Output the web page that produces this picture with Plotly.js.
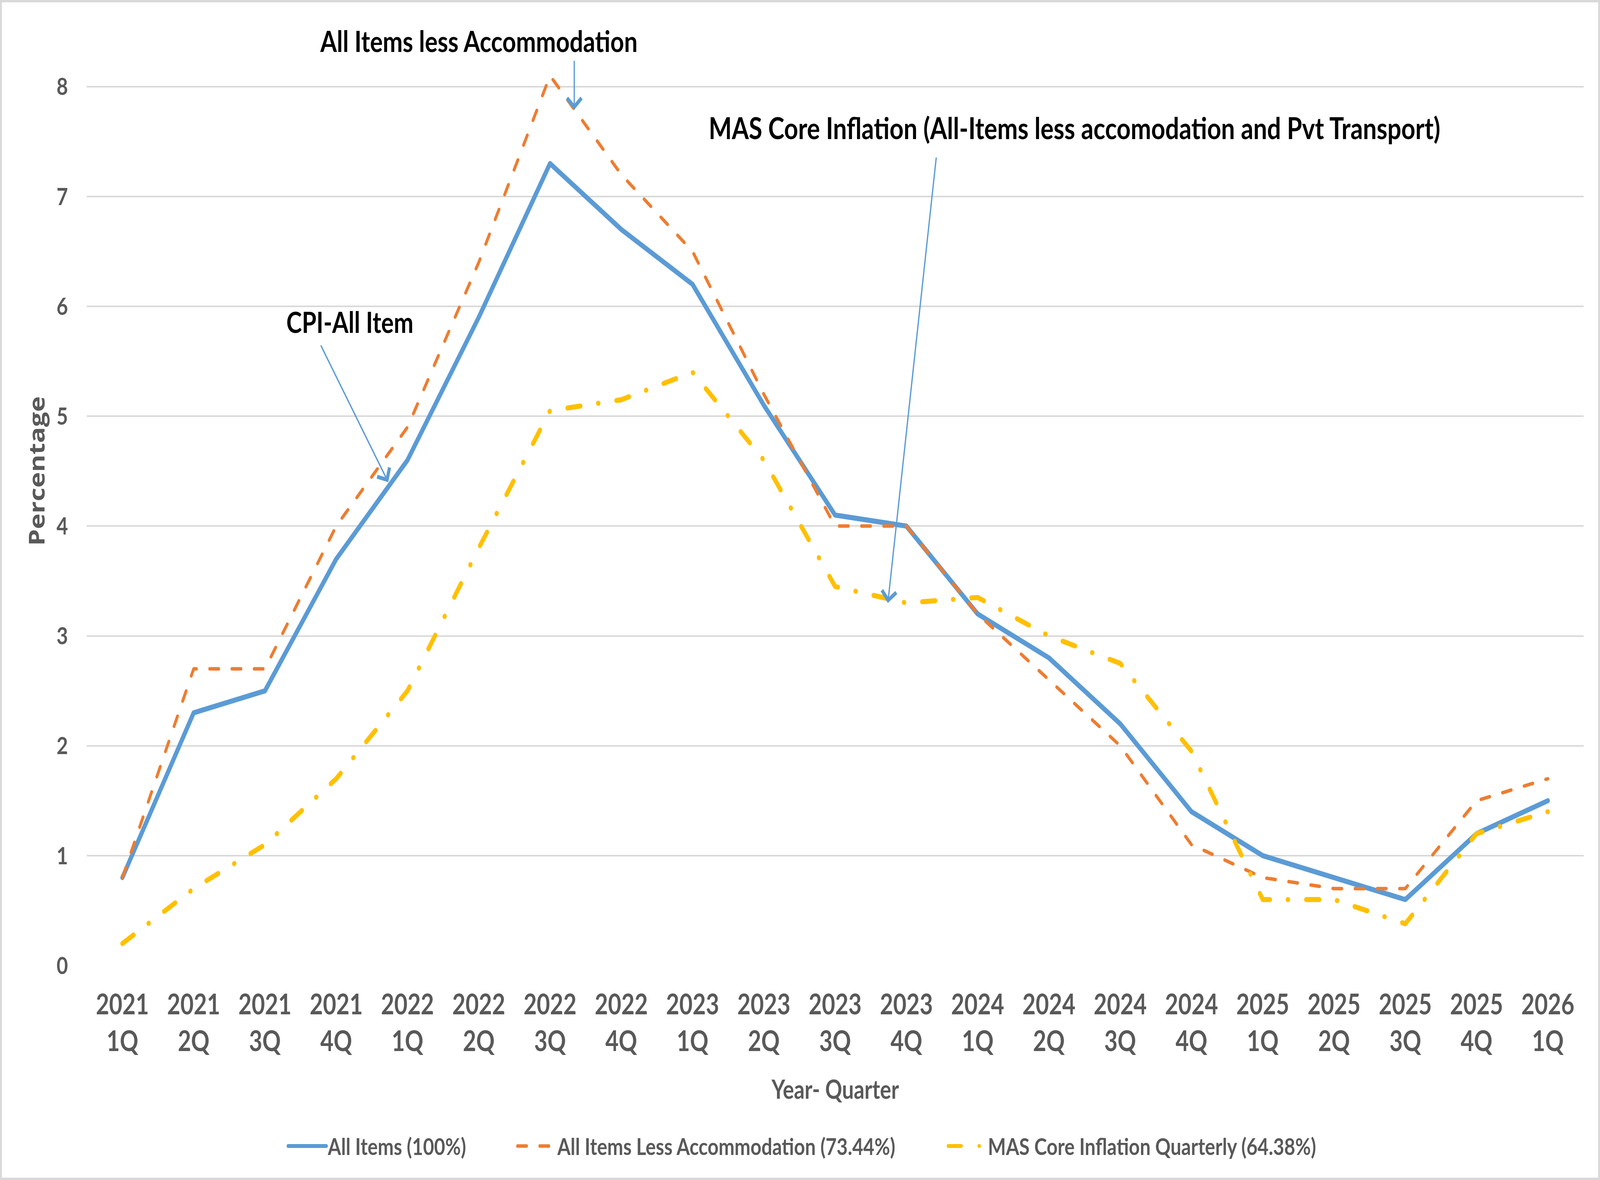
<!DOCTYPE html>
<html>
<head>
<meta charset="utf-8">
<script src="https://cdn.plot.ly/plotly-3.0.1.min.js"></script>
<style>
  html, body { margin: 0; padding: 0; background: #ffffff; overflow: hidden; }
  #wrap { position: absolute; left: 0; top: 0; width: 5035px; height: 3020px; transform-origin: 0 0; }
  #chart { position: absolute; left: 0; top: 0; width: 5035px; height: 3020px; }
  #frame { position: absolute; left: 0; top: 0; width: 5035px; height: 3020px; box-sizing: border-box; border: 6px solid #D9D9D9; pointer-events: none; }
  .scatterlayer path.js-line, .legendlines path { stroke-linecap: round; stroke-linejoin: round; }
</style>
</head>
<body>
<div id="wrap"><div id="chart"></div><div id="frame"></div></div>
<script>
// ---- data ----
const years = ['2021','2021','2021','2021','2022','2022','2022','2022','2023','2023','2023','2023','2024','2024','2024','2024','2025','2025','2025','2025','2026'];
const quarters = ['1Q','2Q','3Q','4Q','1Q','2Q','3Q','4Q','1Q','2Q','3Q','4Q','1Q','2Q','3Q','4Q','1Q','2Q','3Q','4Q','1Q'];
const allItems = [0.8, 2.3, 2.5, 3.7, 4.6, 5.9, 7.3, 6.7, 6.2, 5.1, 4.1, 4.0, 3.2, 2.8, 2.2, 1.4, 1.0, 0.8, 0.6, 1.2, 1.5];
const lessAccom = [0.8, 2.7, 2.7, 4.0, 4.9, 6.4, 8.1, 7.2, 6.5, 5.2, 4.0, 4.0, 3.2, 2.6, 2.0, 1.1, 0.8, 0.7, 0.7, 1.5, 1.7];
const masCore = [0.2, 0.7, 1.1, 1.7, 2.5, 3.8, 5.05, 5.15, 5.4, 4.6, 3.45, 3.3, 3.35, 3.0, 2.75, 1.95, 0.6, 0.6, 0.38, 1.2, 1.4];
const seriesNames = ['All Items (100%)', 'All Items Less Accommodation (73.44%)', 'MAS Core Inflation Quarterly (64.38%)'];
const yTicks = [0, 1, 2, 3, 4, 5, 6, 7, 8];

// fit the 5035x3020 design to the actual viewport
const W = 5035, H = 3020;
const vw = window.innerWidth || W, vh = window.innerHeight || H;
const sx = vw / W, sy = vh / H;
const wrap = document.getElementById('wrap');
wrap.style.transform = 'scale(' + sx + ',' + sy + ')';
document.body.style.width = vw + 'px';
document.body.style.height = vh + 'px';

const cats = years.map((y, i) => y + '<br>' + quarters[i]);

const FONT = 'Lato, "Open Sans", sans-serif';
const GREY = '#595959';

const traces = [
  { x: cats, y: allItems, name: seriesNames[0], type: 'scatter', mode: 'lines', legend: 'legend',
    line: { color: '#5B9BD5', width: 13 } },
  { x: cats, y: lessAccom, name: seriesNames[1], type: 'scatter', mode: 'lines', legend: 'legend2',
    line: { color: '#ED7D31', width: 9, dash: '28px,42px' } },
  { x: cats, y: masCore, name: seriesNames[2], type: 'scatter', mode: 'lines', legend: 'legend3',
    line: { color: '#FFC000', width: 13, dash: '41px,56px,1px,57px' } }
];

const arrowColor = '#5B9BD5';
const arrowStyle = { text: '', showarrow: true, arrowhead: 4, arrowsize: 2.2, arrowwidth: 4, arrowcolor: arrowColor,
  xref: 'x', yref: 'y', axref: 'x', ayref: 'y' };
const annotations = [
  // arrows
  Object.assign({ x: 3.73, y: 4.4, ax: 2.78, ay: 5.65 }, arrowStyle),
  Object.assign({ x: 6.34, y: 7.79, ax: 6.34, ay: 8.24 }, arrowStyle),
  Object.assign({ x: 10.74, y: 3.3, ax: 11.42, ay: 7.36 }, arrowStyle),
  // labels
  { x: 0.2619, y: 1.037, xref: 'paper', yref: 'paper', showarrow: false, text: '<b>All Items less Accommodation</b>',
    xanchor: 'center', yanchor: 'middle', font: { family: FONT, size: 75, color: '#000000' } },
  { x: 3.19, y: 5.86, xref: 'x', yref: 'y', showarrow: false, text: '<b>CPI-All Item</b>',
    font: { family: FONT, size: 74, color: '#000000' } },
  { x: 13.36, y: 7.63, xref: 'x', yref: 'y', showarrow: false,
    text: '<b>MAS Core Inflation (All-Items less accomodation and Pvt Transport)</b>',
    font: { family: FONT, size: 77, color: '#000000' } },
  // axis titles
  { x: 0.5, y: -0.138, xref: 'paper', yref: 'paper', showarrow: false, text: '<b>Year- Quarter</b>',
    xanchor: 'center', yanchor: 'middle', font: { family: FONT, size: 66, color: GREY } },
  { x: -0.0338, y: 0.5545, xref: 'paper', yref: 'paper', showarrow: false, text: '<b>Percentage</b>',
    textangle: -90, xanchor: 'center', yanchor: 'middle', font: { family: '"Open Sans", sans-serif', size: 68, color: GREY } }
];

const legendBase = {
  orientation: 'h', y: -0.2024, xanchor: 'left', yanchor: 'middle', bgcolor: 'rgba(0,0,0,0)',
  font: { family: FONT, size: 60, color: GREY, weight: 'bold' }, itemwidth: 120
};

const layout = {
  width: W, height: H,
  paper_bgcolor: '#ffffff', plot_bgcolor: '#ffffff',
  margin: { l: 273, r: 52, t: 188, b: 549 },
  showlegend: true,
  legend: Object.assign({ x: 0.1335 }, legendBase),
  legend2: Object.assign({ x: 0.2868 }, legendBase),
  legend3: Object.assign({ x: 0.5745 }, legendBase),
  xaxis: { type: 'category', range: [-0.5, 20.5], showgrid: false, zeroline: false, showline: false, ticks: '',
    tickfont: { family: FONT, size: 72, color: GREY, weight: 'bold' }, ticklabelstandoff: 52, fixedrange: true },
  yaxis: { range: [0, 8.12], tickvals: yTicks, ticktext: yTicks.map(String), showgrid: true,
    gridcolor: '#D9D9D9', gridwidth: 4, zeroline: false, showline: false, ticks: '',
    tickfont: { family: FONT, size: 62, color: GREY, weight: 'bold' }, ticklabelstandoff: 58, fixedrange: true },
  annotations: annotations,
  hovermode: false
};

Plotly.newPlot('chart', traces, layout, { displayModeBar: false, staticPlot: true });
</script>
</body>
</html>
